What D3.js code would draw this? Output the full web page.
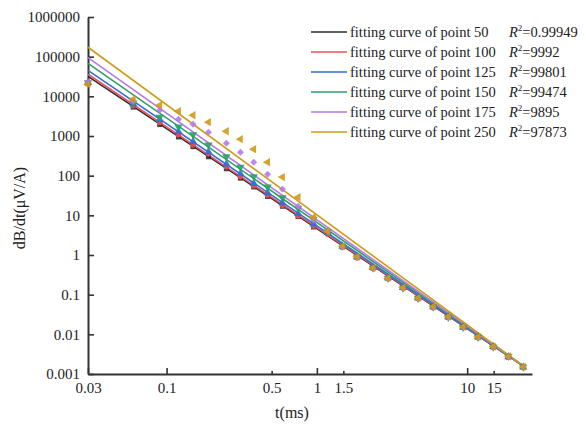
<!DOCTYPE html>
<html>
<head>
<meta charset="utf-8">
<script src="https://cdn.jsdelivr.net/npm/d3@7"></script>
<style>
  body { margin: 0; background: #fff; }
  svg { display: block; font-family: "Liberation Serif", "Times New Roman", serif; }
</style>
</head>
<body>
<svg id="chart" width="584" height="426"></svg>
<script>
// time gates (ms)
var tGates = [0.03, 0.06, 0.09, 0.12, 0.15, 0.19, 0.25, 0.31, 0.38, 0.47, 0.59, 0.75, 0.95,
  1.18, 1.48, 1.85, 2.36, 2.97, 3.74, 4.71, 5.94, 7.48, 9.4, 11.8, 14.9, 18.8, 23.6]

// measured dB/dt for each point
var valsP50 = [21000, 5350, 1950, 950, 540, 300, 150, 87, 52, 30, 17, 9.3, 5.1,
  3.5, 1.6, 0.88, 0.47, 0.26, 0.15, 0.082, 0.049, 0.027, 0.015, 0.0085, 0.0048, 0.0027, 0.0015]
var valsP100 = [21500, 5800, 2200, 1080, 600, 360, 168, 96, 56, 32.5, 18, 9.8, 5.4,
  3.4, 1.62, 0.87, 0.48, 0.26, 0.152, 0.083, 0.048, 0.027, 0.0152, 0.0086, 0.0048, 0.0027, 0.00152]
var valsP125 = [22500, 6400, 2600, 1300, 720, 400, 195, 112, 64, 37, 20.5, 11, 6.0,
  3.7, 1.65, 0.9, 0.48, 0.265, 0.15, 0.083, 0.049, 0.0275, 0.015, 0.0086, 0.0049, 0.0027, 0.0015]
var valsP150 = [22000, 6800, 3000, 1700, 1080, 600, 300, 165, 95, 52, 28, 15, 8.0,
  3.9, 1.7, 0.9, 0.47, 0.26, 0.148, 0.082, 0.049, 0.027, 0.0152, 0.0085, 0.0048, 0.0028, 0.0015]
var valsP175 = [23000, 7500, 4470, 2650, 1980, 1250, 659, 391, 219, 109, 45.7, 17, 7.6,
  3.9, 1.62, 0.88, 0.46, 0.255, 0.145, 0.08, 0.048, 0.027, 0.015, 0.0085, 0.0048, 0.0027, 0.0015]
var valsP250 = [20000, 8500, 6000, 4200, 3340, 2230, 1320, 830, 465, 219, 92, 28.7, 9.0,
  4.0, 1.65, 0.9, 0.47, 0.26, 0.15, 0.082, 0.05, 0.028, 0.0155, 0.0087, 0.0049, 0.0028, 0.0015]

// power law fits y = a * t^b
var fitA = [4.63, 4.89, 5.44, 6.62, 7.76, 10.3]
var fitB = [-2.521, -2.539, -2.572, -2.634, -2.684, -2.774]
var fitRange = [0.03, 23.6]

var seriesNames = ['fitting curve of point 50', 'fitting curve of point 100', 'fitting curve of point 125',
  'fitting curve of point 150', 'fitting curve of point 175', 'fitting curve of point 250']
var r2Labels = ['0.99949', '9992', '99801', '99474', '9895', '97873']
var colors = ['#2b2b2b', '#e8525a', '#2f6fd6', '#2e9e62', '#b67ae8', '#cf9a16']
var allVals = [valsP50, valsP100, valsP125, valsP150, valsP175, valsP250]

var yTicks = [0.001, 0.01, 0.1, 1, 10, 100, 1000, 10000, 100000, 1000000]
var xTicks = [0.03, 0.1, 0.5, 1, 1.5, 10, 15]
var xMinor = [0.5, 1.5, 15]

var svg = d3.select('#chart')
var x = d3.scaleLog().domain([0.03, 27]).range([88, 532])
var y = d3.scaleLog().domain([0.001, 1000000]).range([374, 17])

// axes
var yAxis = svg.append('g')
  .attr('transform', 'translate(88,0)')
  .call(d3.axisLeft(y).tickValues(yTicks).tickSize(-6).tickSizeOuter(0).tickPadding(8)
    .tickFormat(function (d) { return String(d) }))
var xAxis = svg.append('g')
  .attr('transform', 'translate(0,374)')
  .call(d3.axisBottom(x).tickValues(xTicks).tickSize(-6).tickSizeOuter(0).tickPadding(8)
    .tickFormat(function (d) { return String(d) }))
xAxis.selectAll('.tick line').filter(function (d) { return xMinor.includes(d) }).attr('y2', -3)

svg.selectAll('.domain').attr('stroke', '#333').attr('stroke-width', 2)
svg.selectAll('.tick line').attr('stroke', '#333').attr('stroke-width', 1.6)
svg.selectAll('.tick text').attr('font-size', 15).attr('fill', '#222')
  .attr('font-family', '"Liberation Serif", serif')

// axis titles
svg.append('text')
  .attr('transform', 'translate(25,208) rotate(-90)')
  .attr('text-anchor', 'middle')
  .attr('font-size', 16).attr('fill', '#222')
  .text('dB/dt(\u03BCV/A)')
svg.append('text')
  .attr('x', 292).attr('y', 418)
  .attr('text-anchor', 'middle')
  .attr('font-size', 16).attr('fill', '#222')
  .text('t(ms)')

// fitted lines
var line = d3.line()
  .x(function (d) { return x(d[0]) })
  .y(function (d) { return y(d[1]) })
var fitGroup = svg.append('g')
fitA.map(function (a, i) {
  var pts = fitRange.map(function (t) { return [t, a * Math.pow(t, fitB[i])] })
  fitGroup.append('path')
    .attr('d', line(pts))
    .attr('fill', 'none')
    .attr('stroke', colors[i])
    .attr('stroke-width', 1.6)
})

// markers
var symbols = [
  { type: d3.symbolSquare, size: 26, rot: 0 },
  { type: d3.symbolCircle, size: 26, rot: 0 },
  { type: d3.symbolTriangle, size: 30, rot: 0 },
  { type: d3.symbolTriangle, size: 30, rot: 180 },
  { type: d3.symbolSquare, size: 24, rot: 45 },
  { type: d3.symbolTriangle, size: 30, rot: -90 }
]
var markGroup = svg.append('g')
allVals.map(function (vals, i) {
  var sym = d3.symbol().type(symbols[i].type).size(symbols[i].size)
  markGroup.append('g').selectAll('path')
    .data(vals)
    .enter()
    .append('path')
    .attr('d', sym)
    .attr('transform', function (d, k) {
      return 'translate(' + x(tGates[k]) + ',' + y(d) + ') rotate(' + symbols[i].rot + ')'
    })
    .attr('fill', colors[i])
    .attr('opacity', 0.9)
})

// legend
var legend = svg.append('g')
seriesNames.map(function (name, i) {
  var ly = 32 + i * 20
  legend.append('line')
    .attr('x1', 311).attr('x2', 347)
    .attr('y1', ly).attr('y2', ly)
    .attr('stroke', colors[i]).attr('stroke-width', 1.6)
  legend.append('text')
    .attr('x', 350).attr('y', ly + 5)
    .attr('font-size', 14.5).attr('fill', '#222')
    .text(name)
  var rt = legend.append('text')
    .attr('x', 509).attr('y', ly + 5)
    .attr('font-size', 14.5).attr('fill', '#222')
  rt.append('tspan').attr('font-style', 'italic').text('R')
  rt.append('tspan').attr('font-size', 9).attr('dy', -6).text('2')
  rt.append('tspan').attr('dy', 6).text('=' + r2Labels[i])
})
</script>
</body>
</html>
